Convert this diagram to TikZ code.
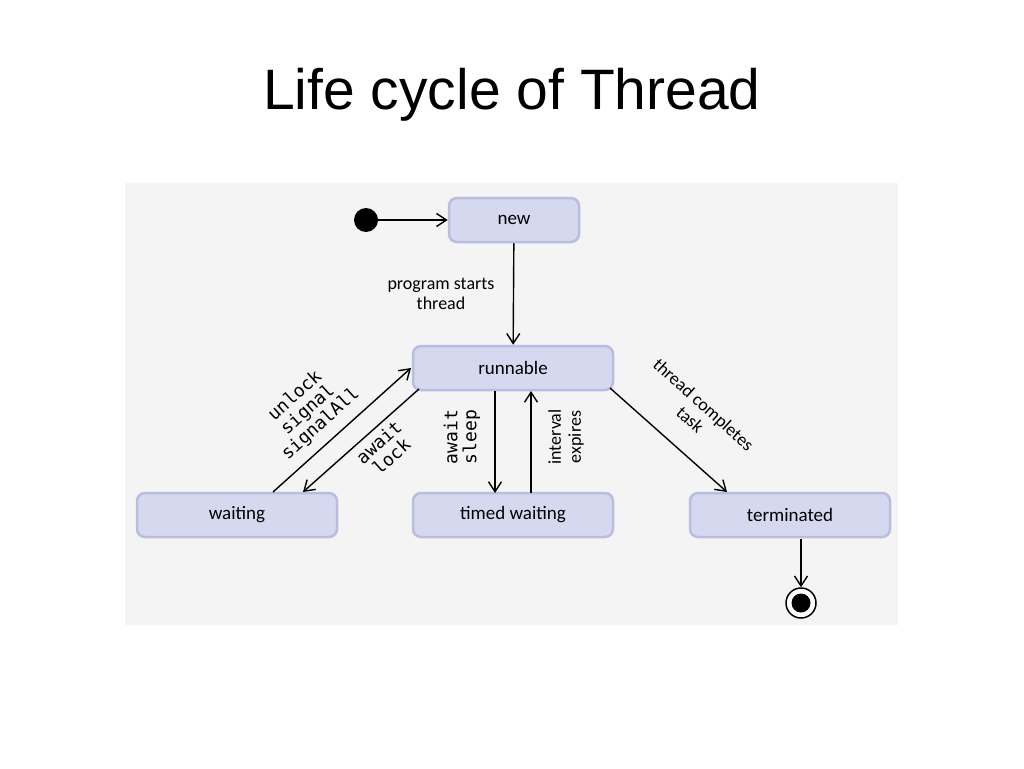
\documentclass[tikz,border=0pt]{standalone}
\usepackage{fontspec}
\setmainfont{Liberation Sans}
\setsansfont{Carlito}
\setmonofont{DejaVu Sans Mono}
\usetikzlibrary{arrows.meta}
\definecolor{stfill}{HTML}{D5D8EF}
\definecolor{stdraw}{HTML}{B9BEE0}
\definecolor{panel}{HTML}{F4F4F4}
\begin{document}
\begin{tikzpicture}[x=1pt,y=-1pt,
  state/.style={draw=stdraw,line width=2.5pt,fill=stfill,rounded corners=8pt,minimum width=200pt,minimum height=44pt,font=\sffamily\fontsize{19}{21}\selectfont},
  tr/.style={-{Straight Barb[length=10pt,width=13pt]},line width=1.4pt},
  lbl/.style={font=\sffamily\fontsize{18}{20}\selectfont,align=center},
  mlbl/.style={font=\ttfamily\fontsize{18}{19}\selectfont,align=center}]
\useasboundingbox (0,0) rectangle (1024,768);
\node[font=\fontsize{57}{60}\selectfont] (title) at (512,95) {Life cycle of Thread};
\fill[panel] (125,183) rectangle (898,625);
\node[state,minimum width=130pt] (new) at (514,220) {new};
\node[state] (run) at (513,368) {runnable};
\node[state] (wait) at (237,515) {waiting};
\node[state] (tw) at (513,515) {timed waiting};
\node[state] (term) at (790,515) {terminated};
\node[circle,fill=black,inner sep=0pt,minimum size=24pt] (init) at (366,220) {};
\node[circle,draw=black,line width=1.5pt,fill=white,inner sep=0pt,minimum size=30pt] (fin) at (801,603) {};
\fill (fin) circle (9.5pt);
\draw[tr] (init) -- (new);
\draw[tr] (new) -- (run);
\node[lbl] (l1) at (441,294) {program starts\\thread};
\coordinate (a1) at (273,492); \coordinate (a2) at (411,368);
\draw[tr] (a1) -- (a2);
\coordinate (b1) at (419,389); \coordinate (b2) at (303,492);
\draw[tr] (b1) -- (b2);
\coordinate (c1) at (495,391); \coordinate (c2) at (495,493);
\draw[tr] (c1) -- (c2);
\coordinate (d1) at (531,493); \coordinate (d2) at (531,391);
\draw[tr] (d1) -- (d2);
\coordinate (e1) at (610,388); \coordinate (e2) at (727,492);
\draw[tr] (e1) -- (e2);
\coordinate (f1) at (801,539);
\draw[tr] (f1) -- (fin);
\node[mlbl,rotate=42] (l2) at (308,410) {unlock\\signal\\signalAll};
\node[mlbl,rotate=42] (l3) at (385,449) {await\\lock};
\node[mlbl,rotate=90] (l4) at (462,437) {await\\sleep};
\node[lbl,rotate=90] (l5) at (566,437) {interval\\expires};
\node[lbl,rotate=-42] (l6) at (697,412) {thread completes\\task};
\end{tikzpicture}
\end{document}
